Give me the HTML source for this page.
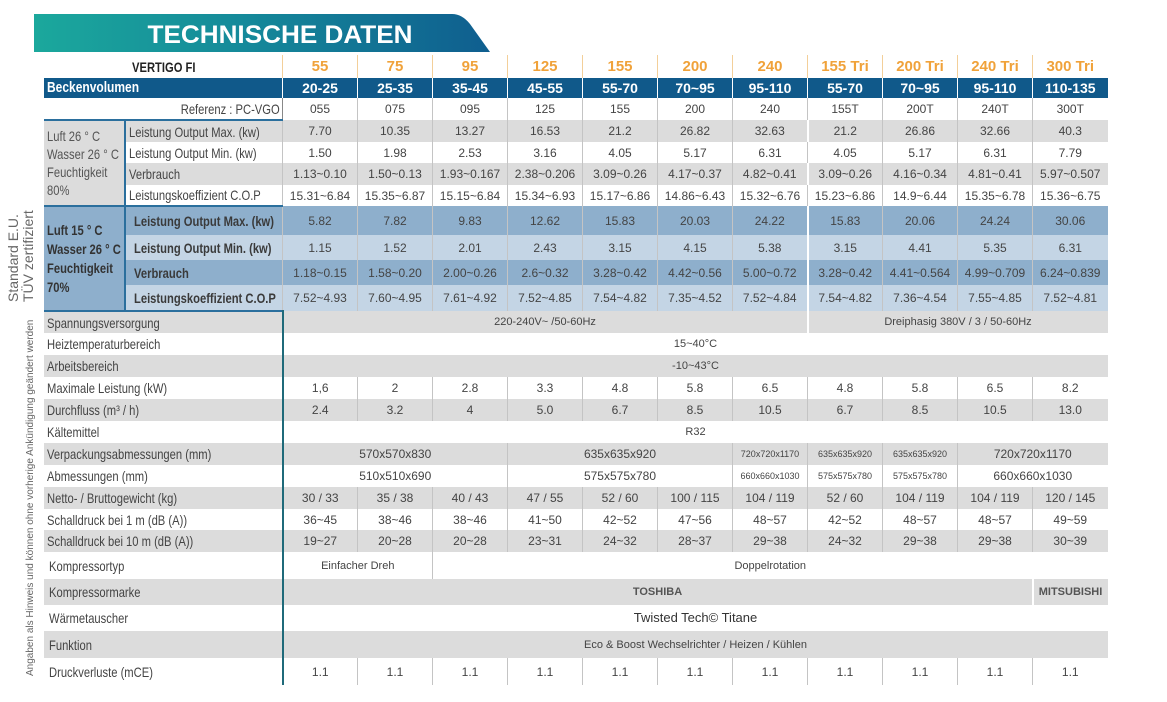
<!DOCTYPE html>
<html><head><meta charset="utf-8">
<style>
html,body{margin:0;padding:0;background:#fff;}
body{width:1167px;height:702px;position:relative;overflow:hidden;font-family:"Liberation Sans Narrow","Liberation Sans",sans-serif;color:#444;}
table{position:absolute;left:43px;top:55px;border-collapse:collapse;table-layout:fixed;width:1064px;font-size:12px;}
td{padding:0;text-align:center;vertical-align:middle;white-space:nowrap;overflow:hidden;border-left:1px solid #c4c4c4;line-height:14px;}
td.l{text-align:left;padding-left:3px;border-left:none;font-size:14px;}
.n{display:inline-block;transform:scaleX(0.8);transform-origin:left center;}
.g{background:#dcdcdc;}
.w{background:#fff;}
.hd td{height:23px;color:#f0a23a;font-weight:bold;font-size:15px;border-left:1px solid #f3cf99;}
.hd td.l{color:#222;font-size:14px;text-align:left;padding-left:88px;}
.bv td{height:20px;background:#10598a;color:#fff;font-weight:bold;font-size:14px;border-left:1px solid #fff;}
.bv td.l{font-size:15px;}
.d1 td.sub{border-left:2px solid #2b6f9d;}
.b1{background:#8eafcc;}
.b2{background:#c4d5e5;}
.blue td.sub{font-weight:bold;color:#3a3a3a;padding-left:8px;border-left:2px solid #2b6f9d;}
.grp{color:#555;line-height:18px;vertical-align:top;padding-top:6px;background:#dcdcdc;}
.grpb{background:#8eafcc;font-weight:bold;color:#333;line-height:19px;border-left:none;}
.lo td.l{border-right:2px solid #1f6a7a;}
.sm{font-size:9px;}
.gap{border-left:2px solid #fff !important;}
.rot{position:absolute;transform:rotate(-90deg);transform-origin:left top;white-space:nowrap;color:#666;}
</style></head><body>
<svg width="500" height="56" style="position:absolute;left:0;top:0">
<defs><linearGradient id="gr" x1="0" x2="1" y1="0" y2="0"><stop offset="0" stop-color="#1ba89c"/><stop offset="0.45" stop-color="#158a9a"/><stop offset="1" stop-color="#0f5e8f"/></linearGradient></defs>
<path d="M34 14 L452 14 Q462 14 470 24 L490 52 L34 52 Z" fill="url(#gr)"/>
<text x="280" y="43" text-anchor="middle" fill="#fff" font-family="Liberation Sans, sans-serif" font-weight="bold" font-size="25" textLength="265" lengthAdjust="spacingAndGlyphs">TECHNISCHE DATEN</text>
</svg>
<div class="rot" style="left:6px;top:302px;font-size:14px;line-height:15px;">Standard E.U.<br>TÜV zertifiziert</div>
<div class="rot" style="left:25px;top:676px;font-size:10px;">Angaben als Hinweis und können ohne vorherige Ankündigung geändert werden</div>
<table>
<colgroup><col style="width:81px"><col style="width:158px"><col span="11" style="width:75px"></colgroup>
<tr class="hd"><td class="l" colspan="2" style="border-left:none"><span class="n">VERTIGO FI</span></td><td>55</td><td>75</td><td>95</td><td>125</td><td>155</td><td>200</td><td>240</td><td>155 Tri</td><td>200 Tri</td><td>240 Tri</td><td>300 Tri</td></tr>
<tr class="bv"><td class="l" colspan="2"><span class="n">Beckenvolumen</span></td><td>20-25</td><td>25-35</td><td>35-45</td><td>45-55</td><td>55-70</td><td>70~95</td><td>95-110</td><td>55-70</td><td>70~95</td><td>95-110</td><td>110-135</td></tr>
<tr class="w" style="height:22px"><td colspan="2" style="text-align:right;padding-right:2px;border-left:none;border-right:1px solid #888;font-size:14px"><span class="n" style="transform-origin:right center">Referenz : PC-VGO</span></td><td>055</td><td>075</td><td>095</td><td>125</td><td>155</td><td>200</td><td>240</td><td>155T</td><td>200T</td><td>240T</td><td>300T</td></tr>
<tr class="g d1" style="height:22px"><td class="l grp" rowspan="4" style="border-top:2px solid #2b6f9d;"><span class="n">Luft 26 ° C<br>Wasser 26 ° C<br>Feuchtigkeit<br>80%</span></td><td class="l sub" style="border-top:2px solid #2b6f9d;"><span class="n">Leistung Output Max. (kw)</span></td><td>7.70</td><td>10.35</td><td>13.27</td><td>16.53</td><td>21.2</td><td>26.82</td><td>32.63</td><td class="gap">21.2</td><td>26.86</td><td>32.66</td><td>40.3</td></tr>
<tr class="w d1" style="height:21px"><td class="l sub"><span class="n">Leistung Output Min. (kw)</span></td><td>1.50</td><td>1.98</td><td>2.53</td><td>3.16</td><td>4.05</td><td>5.17</td><td>6.31</td><td>4.05</td><td>5.17</td><td>6.31</td><td>7.79</td></tr>
<tr class="g d1" style="height:22px"><td class="l sub"><span class="n">Verbrauch</span></td><td>1.13~0.10</td><td>1.50~0.13</td><td>1.93~0.167</td><td>2.38~0.206</td><td>3.09~0.26</td><td>4.17~0.37</td><td>4.82~0.41</td><td class="gap">3.09~0.26</td><td>4.16~0.34</td><td>4.81~0.41</td><td>5.97~0.507</td></tr>
<tr class="w d1" style="height:21px"><td class="l sub"><span class="n">Leistungskoeffizient C.O.P</span></td><td>15.31~6.84</td><td>15.35~6.87</td><td>15.15~6.84</td><td>15.34~6.93</td><td>15.17~6.86</td><td>14.86~6.43</td><td>15.32~6.76</td><td>15.23~6.86</td><td>14.9~6.44</td><td>15.35~6.78</td><td>15.36~6.75</td></tr>
<tr class="b1 blue" style="height:29px"><td class="l grpb" rowspan="4" style="border-top:2px solid #2b6f9d;"><span class="n">Luft 15 ° C<br>Wasser 26 ° C<br>Feuchtigkeit<br>70%</span></td><td class="l sub" style="border-top:2px solid #2b6f9d;"><span class="n">Leistung Output Max. (kw)</span></td><td>5.82</td><td>7.82</td><td>9.83</td><td>12.62</td><td>15.83</td><td>20.03</td><td>24.22</td><td class="gap">15.83</td><td>20.06</td><td>24.24</td><td>30.06</td></tr>
<tr class="b2 blue" style="height:25px"><td class="l sub"><span class="n">Leistung Output Min. (kw)</span></td><td>1.15</td><td>1.52</td><td>2.01</td><td>2.43</td><td>3.15</td><td>4.15</td><td>5.38</td><td class="gap">3.15</td><td>4.41</td><td>5.35</td><td>6.31</td></tr>
<tr class="b1 blue" style="height:25px"><td class="l sub"><span class="n">Verbrauch</span></td><td>1.18~0.15</td><td>1.58~0.20</td><td>2.00~0.26</td><td>2.6~0.32</td><td>3.28~0.42</td><td>4.42~0.56</td><td>5.00~0.72</td><td class="gap">3.28~0.42</td><td>4.41~0.564</td><td>4.99~0.709</td><td>6.24~0.839</td></tr>
<tr class="b2 blue" style="height:26px"><td class="l sub"><span class="n">Leistungskoeffizient C.O.P</span></td><td>7.52~4.93</td><td>7.60~4.95</td><td>7.61~4.92</td><td>7.52~4.85</td><td>7.54~4.82</td><td>7.35~4.52</td><td>7.52~4.84</td><td class="gap">7.54~4.82</td><td>7.36~4.54</td><td>7.55~4.85</td><td>7.52~4.81</td></tr>
<tr class="g lo" style="height:22px;font-size:11px"><td class="l" colspan="2" style="border-top:2px solid #2b6f9d;"><span class="n">Spannungsversorgung</span></td><td colspan="7" style="border-left:none">220-240V~ /50-60Hz</td><td colspan="4" class="gap">Dreiphasig 380V / 3 / 50-60Hz</td></tr>
<tr class="w lo" style="height:22px"><td class="l" colspan="2"><span class="n">Heiztemperaturbereich</span></td><td colspan="11" style="border-left:none;font-size:11px">15~40°C</td></tr>
<tr class="g lo" style="height:22px"><td class="l" colspan="2"><span class="n">Arbeitsbereich</span></td><td colspan="11" style="border-left:none;font-size:11px">-10~43°C</td></tr>
<tr class="w lo" style="height:22px"><td class="l" colspan="2"><span class="n">Maximale Leistung (kW)</span></td><td style="border-left:none">1,6</td><td>2</td><td>2.8</td><td>3.3</td><td>4.8</td><td>5.8</td><td>6.5</td><td>4.8</td><td>5.8</td><td>6.5</td><td>8.2</td></tr>
<tr class="g lo" style="height:22px"><td class="l" colspan="2"><span class="n">Durchfluss (m³ / h)</span></td><td style="border-left:none">2.4</td><td>3.2</td><td>4</td><td>5.0</td><td>6.7</td><td>8.5</td><td>10.5</td><td>6.7</td><td>8.5</td><td>10.5</td><td>13.0</td></tr>
<tr class="w lo" style="height:22px"><td class="l" colspan="2"><span class="n">Kältemittel</span></td><td colspan="11" style="border-left:none;font-size:11px">R32</td></tr>
<tr class="g lo" style="height:22px"><td class="l" colspan="2"><span class="n">Verpackungsabmessungen (mm)</span></td><td colspan="3" style="border-left:none">570x570x830</td><td colspan="3">635x635x920</td><td class="sm">720x720x1170</td><td class="sm">635x635x920</td><td class="sm">635x635x920</td><td colspan="2">720x720x1170</td></tr>
<tr class="w lo" style="height:22px"><td class="l" colspan="2"><span class="n">Abmessungen (mm)</span></td><td colspan="3" style="border-left:none">510x510x690</td><td colspan="3">575x575x780</td><td class="sm">660x660x1030</td><td class="sm">575x575x780</td><td class="sm">575x575x780</td><td colspan="2">660x660x1030</td></tr>
<tr class="g lo" style="height:22px"><td class="l" colspan="2"><span class="n">Netto- / Bruttogewicht (kg)</span></td><td style="border-left:none">30 / 33</td><td>35 / 38</td><td>40 / 43</td><td>47 / 55</td><td>52 / 60</td><td>100 / 115</td><td>104 / 119</td><td>52 / 60</td><td>104 / 119</td><td>104 / 119</td><td>120 / 145</td></tr>
<tr class="w lo" style="height:21px"><td class="l" colspan="2"><span class="n">Schalldruck bei 1 m (dB (A))</span></td><td style="border-left:none">36~45</td><td>38~46</td><td>38~46</td><td>41~50</td><td>42~52</td><td>47~56</td><td>48~57</td><td>42~52</td><td>48~57</td><td>48~57</td><td>49~59</td></tr>
<tr class="g lo" style="height:22px"><td class="l" colspan="2"><span class="n">Schalldruck bei 10 m (dB (A))</span></td><td style="border-left:none">19~27</td><td>20~28</td><td>20~28</td><td>23~31</td><td>24~32</td><td>28~37</td><td>29~38</td><td>24~32</td><td>29~38</td><td>29~38</td><td>30~39</td></tr>
<tr class="w lo" style="height:27px;font-size:11px"><td class="l" colspan="2" style="padding-left:5px"><span class="n">Kompressortyp</span></td><td colspan="2" style="border-left:none">Einfacher Dreh</td><td colspan="9">Doppelrotation</td></tr>
<tr class="g lo" style="height:26px;font-size:11px;font-weight:bold;color:#555"><td class="l" colspan="2" style="font-weight:normal;color:#444;padding-left:5px"><span class="n">Kompressormarke</span></td><td colspan="10" style="border-left:none">TOSHIBA</td><td class="gap">MITSUBISHI</td></tr>
<tr class="w lo" style="height:26px"><td class="l" colspan="2" style="padding-left:5px"><span class="n">Wärmetauscher</span></td><td colspan="11" style="border-left:none;font-size:13px;color:#333">Twisted Tech© Titane</td></tr>
<tr class="g lo" style="height:27px"><td class="l" colspan="2" style="padding-left:5px"><span class="n">Funktion</span></td><td colspan="11" style="border-left:none;font-size:11px">Eco &amp; Boost Wechselrichter / Heizen / Kühlen</td></tr>
<tr class="w lo" style="height:27px"><td class="l" colspan="2" style="padding-left:5px"><span class="n">Druckverluste (mCE)</span></td><td style="border-left:none">1.1</td><td>1.1</td><td>1.1</td><td>1.1</td><td>1.1</td><td>1.1</td><td>1.1</td><td>1.1</td><td>1.1</td><td>1.1</td><td>1.1</td></tr>
</table>
</body></html>
